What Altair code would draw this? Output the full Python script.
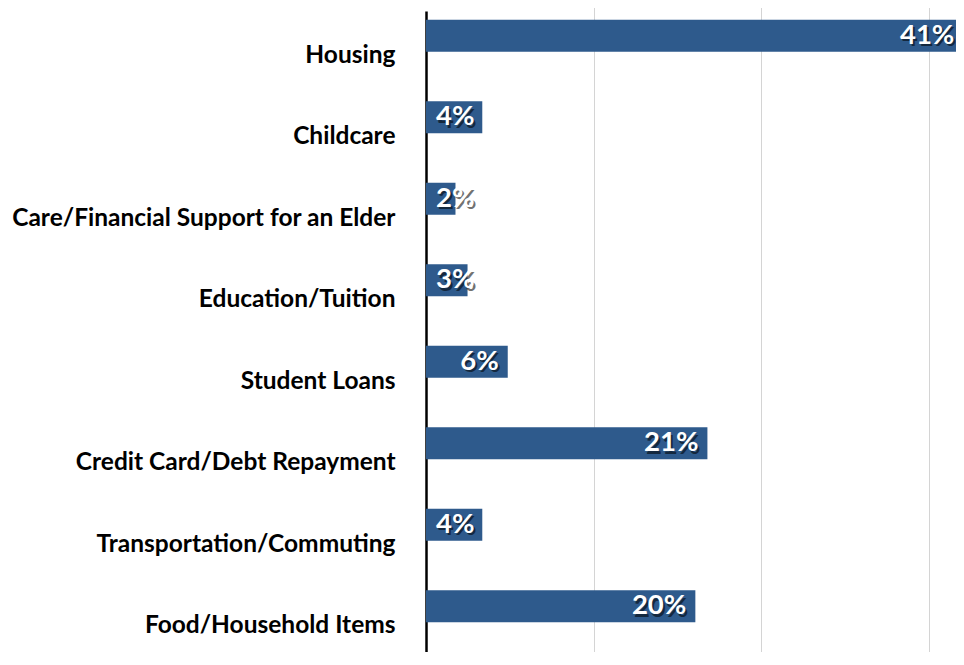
import altair as alt
import pandas as pd

categories = [
    "Housing",
    "Childcare",
    "Care/Financial Support for an Elder",
    "Education/Tuition",
    "Student Loans",
    "Credit Card/Debt Repayment",
    "Transportation/Commuting",
    "Food/Household Items",
]
values = [40.7, 4.2, 2.2, 3.1, 6.1, 21.0, 4.2, 20.1]
labels = ["41%", "4%", "2%", "3%", "6%", "21%", "4%", "20%"]
grid_values = [12.5, 25, 37.5]

df = pd.DataFrame({"category": categories, "value": values, "label": labels})

FONT = "Lato"
BAR_COLOR = "#2E5A8C"

y_enc = alt.Y(
    "category:N",
    sort=categories,
    scale=alt.Scale(range=[0, 652], paddingInner=0, paddingOuter=0),
    axis=alt.Axis(
        title=None,
        ticks=False,
        labelPadding=31,
        labelOffset=4,
        labelFont=FONT,
        labelFontSize=24.5,
        labelFontWeight="bold",
        labelColor="#000000",
        domainColor="#000000",
        domainWidth=2.5,
        labelLimit=600,
        grid=False,
    ),
)

x_enc = alt.X(
    "value:Q",
    scale=alt.Scale(domain=[0, 39.55], nice=False, zero=True),
    axis=alt.Axis(
        title=None,
        labels=False,
        ticks=False,
        domain=False,
        values=grid_values,
        grid=True,
        gridColor="#D4D4D4",
        gridWidth=1,
    ),
)

base = alt.Chart(df)

bars = base.mark_bar(height=32, yOffset=-16, color=BAR_COLOR, clip=True).encode(
    x=x_enc, y=y_enc
)

lab_base = base.transform_calculate(pos="min(max(datum.value, 4.3), 40.1)")

shadow = lab_base.mark_text(
    align="right", baseline="middle", dx=-7, dy=2.5, yOffset=-16,
    font=FONT, fontSize=27.5, fontWeight="bold", color="#000000", opacity=0.55,
).encode(x=alt.X("pos:Q"), y=alt.Y("category:N", sort=categories), text="label:N")

text = lab_base.mark_text(
    align="right", baseline="middle", dx=-9, yOffset=-16,
    font=FONT, fontSize=27.5, fontWeight="bold", color="#FFFFFF",
).encode(x=alt.X("pos:Q"), y=alt.Y("category:N", sort=categories), text="label:N")

chart = (
    alt.layer(bars, shadow, text)
    .properties(
        width=530,
        height=641,
        autosize=alt.AutoSizeParams(type="none"),
        padding={"left": 418, "top": 3, "right": 0, "bottom": 0},
        background="white",
    )
    .configure_view(stroke=None)
)

chart.save("out.html", embed_options={"renderer": "svg", "actions": False})
